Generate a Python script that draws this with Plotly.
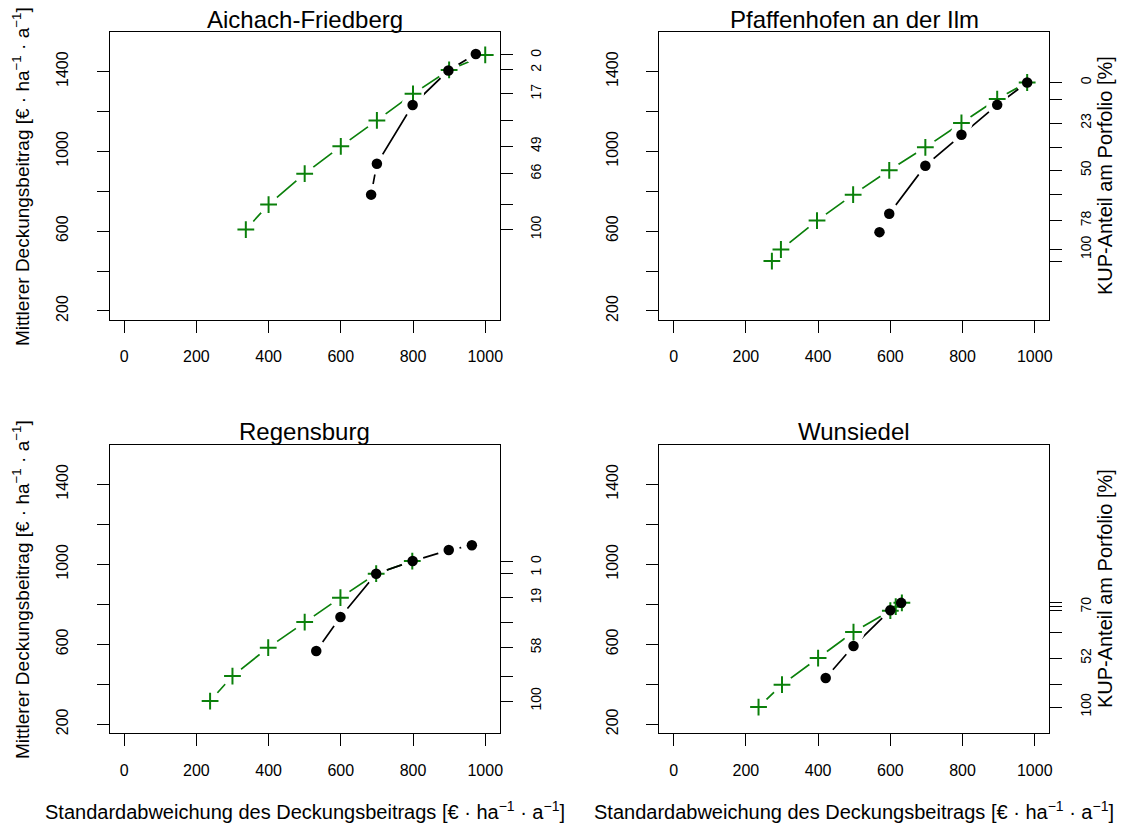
import plotly.graph_objects as go

# ---------------- data ----------------
titles = ["Aichach-Friedberg", "Pfaffenhofen an der Ilm", "Regensburg", "Wunsiedel"]

# green crosses (portfolios with KUP)
af_green_x = [337, 400, 500, 600, 700, 800, 900, 1000]
af_green_y = [608, 733, 888, 1025, 1155, 1288, 1408, 1483]
af_black_x = [684, 700, 799, 898, 974]
af_black_y = [783, 938, 1232, 1405, 1488]
af_kup = ["100", "", "66", "49", "", "17", "2", "0"]

pf_green_x = [272, 297, 397, 497, 597, 697, 797, 896, 979]
pf_green_y = [450, 508, 653, 783, 905, 1020, 1142, 1262, 1345]
pf_black_x = [570, 597, 697, 797, 896, 979]
pf_black_y = [595, 687, 928, 1083, 1233, 1345]
pf_kup = ["", "100", "78", "", "50", "", "23", "", "0"]

rg_green_x = [238, 300, 399, 500, 599, 698, 798]
rg_green_y = [316, 441, 583, 711, 833, 953, 1016]
rg_black_x = [532, 599, 698, 799, 899, 963]
rg_black_y = [566, 736, 953, 1016, 1071, 1095]
rg_kup = ["100", "", "58", "", "19", "1", "0"]

wu_green_x = [235, 300, 400, 498, 600, 615, 632]
wu_green_y = [286, 398, 531, 661, 768, 788, 807]
wu_black_x = [421, 498, 600, 630]
wu_black_y = [431, 591, 770, 807]
wu_kup = ["100", "", "52", "", "7", "", "0"]

x_ticks = [0, 200, 400, 600, 800, 1000]
y_ticks = [200, 400, 600, 800, 1000, 1200, 1400]
y_ticktext = ["200", "", "600", "", "1000", "", "1400"]

panels = [
    (af_green_x, af_green_y, af_black_x, af_black_y, af_kup),
    (pf_green_x, pf_green_y, pf_black_x, pf_black_y, pf_kup),
    (rg_green_x, rg_green_y, rg_black_x, rg_black_y, rg_kup),
    (wu_green_x, wu_green_y, wu_black_x, wu_black_y, wu_kup),
]

# ---------------- layout geometry ----------------
W, H = 1126, 829
GREEN = "#0b800b"
FONT = "Arial, Liberation Sans, sans-serif"

x_dom = [[110 / W, 501 / W], [661 / W, 1052 / W]]
y_dom = [[1 - 320.7 / H, 1 - 32.3 / H], [1 - 735 / H, 1 - 446 / H]]
XR = [-40, 1040]
YR = [155, 1597]

fig = go.Figure()
layout = dict(
    width=W, height=H, margin=dict(l=0, r=0, t=0, b=0),
    paper_bgcolor="white", plot_bgcolor="white", showlegend=False,
    font=dict(family=FONT, color="black"),
)

annotations = []
for i, (gx, gy, bx, by, kup) in enumerate(panels):
    row, col = divmod(i, 2)
    n = i + 1
    xa = "x" if n == 1 else f"x{n}"
    ya = "y" if n == 1 else f"y{n}"
    yr_name = f"yaxis{n + 4}"
    yr_ref = f"y{n + 4}"

    # lines
    fig.add_trace(go.Scatter(x=gx, y=gy, mode="lines", xaxis=xa, yaxis=ya,
                             line=dict(color=GREEN, width=1.7), hoverinfo="skip"))
    fig.add_trace(go.Scatter(x=bx, y=by, mode="lines", xaxis=xa, yaxis=ya,
                             line=dict(color="black", width=1.7), hoverinfo="skip"))
    # white halos to create gaps around points (R type="b")
    fig.add_trace(go.Scatter(x=gx + bx, y=gy + by, mode="markers", xaxis=xa, yaxis=ya,
                             marker=dict(symbol="circle", size=22, color="white"),
                             hoverinfo="skip"))
    # points
    fig.add_trace(go.Scatter(x=gx, y=gy, mode="markers", xaxis=xa, yaxis=ya,
                             marker=dict(symbol="cross-thin", size=12,
                                         line=dict(color=GREEN, width=2))))
    fig.add_trace(go.Scatter(x=bx, y=by, mode="markers", xaxis=xa, yaxis=ya,
                             marker=dict(symbol="circle", size=10.5, color="black")))
    # invisible trace for right axis
    fig.add_trace(go.Scatter(x=[None], y=[None], xaxis=xa, yaxis=yr_ref,
                             mode="markers", showlegend=False, hoverinfo="skip"))

    xkey = "xaxis" if n == 1 else f"xaxis{n}"
    ykey = "yaxis" if n == 1 else f"yaxis{n}"
    layout[xkey] = dict(
        domain=x_dom[col], anchor=ya, range=XR, tickvals=x_ticks,
        ticktext=[str(v) for v in x_ticks], showgrid=False, zeroline=False,
        showline=True, linecolor="black", linewidth=1.2, mirror=True,
        ticks="outside", ticklen=12, tickwidth=1.2, tickcolor="black",
        tickfont=dict(size=16, family=FONT), ticklabelstandoff=10,
    )
    layout[ykey] = dict(
        domain=y_dom[row], anchor=xa, range=YR, tickvals=y_ticks,
        ticktext=y_ticktext, showgrid=False, zeroline=False,
        showline=True, linecolor="black", linewidth=1.2, mirror=True,
        ticks="outside", ticklen=12, tickwidth=1.2, tickcolor="black",
        tickangle=-90, tickfont=dict(size=16, family=FONT), ticklabelstandoff=22,
    )
    layout[yr_name] = dict(
        overlaying=ya, anchor=xa, side="right", range=YR,
        tickvals=gy, ticktext=kup, showgrid=False, zeroline=False, showline=False,
        ticks="outside", ticklen=12, tickwidth=1.2, tickcolor="black",
        tickangle=-90, tickfont=dict(size=14, family=FONT), ticklabelstandoff=12,
    )

    cx = (x_dom[col][0] + x_dom[col][1]) / 2
    cy = (y_dom[row][0] + y_dom[row][1]) / 2
    title_y = 1 - (20 if row == 0 else 433) / H
    annotations.append(dict(text=titles[i], x=cx, y=title_y, xref="paper", yref="paper",
                            showarrow=False, font=dict(size=24, family=FONT),
                            xanchor="center", yanchor="middle"))
    if col == 0:
        annotations.append(dict(
            text="Mittlerer Deckungsbeitrag [€ · ha<sup>−1</sup> · a<sup>−1</sup>]",
            x=21 / W, y=cy, xref="paper", yref="paper", textangle=-90,
            showarrow=False, font=dict(size=19, family=FONT),
            xanchor="center", yanchor="middle"))
    else:
        annotations.append(dict(
            text="KUP-Anteil am Porfolio [%]",
            x=1108 / W, y=cy, xref="paper", yref="paper", textangle=-90,
            showarrow=False, font=dict(size=20, family=FONT),
            xanchor="center", yanchor="middle"))
    if row == 1:
        annotations.append(dict(
            text="Standardabweichung des Deckungsbeitrags [€ · ha<sup>−1</sup> · a<sup>−1</sup>]",
            x=cx, y=1 - 812 / H, xref="paper", yref="paper",
            showarrow=False, font=dict(size=20, family=FONT),
            xanchor="center", yanchor="middle"))

layout["annotations"] = annotations
fig.update_layout(**layout)
fig.write_html("out.html")
